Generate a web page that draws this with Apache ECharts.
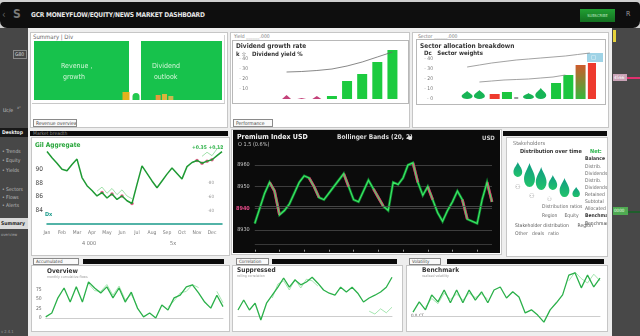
<!DOCTYPE html>
<html>
<head>
<meta charset="utf-8">
<title>GCR Moneyflow Dashboard</title>
<script src="https://cdn.jsdelivr.net/npm/echarts@6.0.0/dist/echarts.min.js"></script>
<style>
html, body { margin: 0; padding: 0; }
body { position: relative; width: 640px; height: 336px; overflow: hidden; background: #cfcfcf;
  font-family: "DejaVu Sans Condensed", "Liberation Sans", sans-serif; }
.a { position: absolute; box-sizing: border-box; }
.panel { background: #fff; border: 1px solid #c6c6c6; }
.hdr { background: #0b0b0b; color: #8a8a8a; font-size: 5px; line-height: 5px; padding-left: 3px; white-space: nowrap; overflow: hidden; }
.lbl { color: #555; font-size: 6px; line-height: 6px; white-space: nowrap; }
.side { color: #bdbdbd; font-size: 5px; line-height: 5px; white-space: nowrap; }
.tab { border: 1px solid #8a8a8a; background: #fafafa; color: #444; font-size: 5px; line-height: 6px; padding-left: 2px; white-space: nowrap; overflow: hidden; }
</style>
</head>
<body>

<!-- frame: top bar, side bars, main area -->
<div class="a" style="left:0;top:2px;width:640px;height:26px;background:#0e0e0e;border-radius:4px 4px 7px 7px"></div>
<div class="a" style="left:2px;top:9px;color:#666;font-size:10px">&lsaquo;</div>
<div class="a" style="left:13px;top:7px;color:#7a7a7a;font-size:12px;font-weight:bold">S</div>
<div class="a" style="left:31px;top:11px;color:#e6e6e6;font-size:6.6px;font-weight:bold;letter-spacing:-0.2px">GCR MONEYFLOW/EQUITY/NEWS MARKET DASHBOARD</div>
<div class="a" style="left:580px;top:9px;width:35px;height:13px;background:linear-gradient(#21a033,#137020);color:#bfe8c0;font-size:4px;line-height:13px;text-align:center">SUBSCRIBE</div>
<div class="a" style="left:626px;top:10px;color:#9a9a9a;font-size:7px">R</div>

<div class="a" id="sideL" style="left:0;top:28px;width:28px;height:308px;background:#474747">
  <div class="a side" style="left:13px;top:22px;width:14px;height:9px;border:1px solid #8a8a8a;color:#ddd;padding:1px 0 0 1px">G80</div>
  <div class="a side" style="left:3px;top:80px;color:#ccc">Uc/e</div>
  <div class="a side" style="left:17px;top:77px;color:#aaa;font-size:4px">x&sup2;</div>
  <div class="a side" style="left:0;top:100px;width:28px;height:9px;background:#181818;color:#eee;font-weight:bold;padding:2px 0 0 2px">Desktop</div>
  <div class="a side" style="left:2px;top:121px">&bull; Trends</div>
  <div class="a side" style="left:2px;top:130px">&bull; Equity</div>
  <div class="a side" style="left:2px;top:140px">&bull; Yields</div>
  <div class="a side" style="left:2px;top:159px">&bull; Sectors</div>
  <div class="a side" style="left:2px;top:167px">&bull; Flows</div>
  <div class="a side" style="left:2px;top:175px">&bull; Alerts</div>
  <div class="a side" style="left:0;top:190px;width:28px;height:11px;background:#d9d9d9;color:#222;font-weight:bold;padding:3px 0 0 1px">Summary</div>
  <div class="a side" style="left:1px;top:204px;color:#aaa;font-size:4px">overview</div>
  <div class="a side" style="left:1px;top:301px;color:#999;font-size:4px">v 2.4.1</div>
</div>

<div class="a" id="sideR" style="left:612px;top:28px;width:28px;height:308px;background:#484848">
  <div class="a" style="left:1px;top:2px;width:3px;height:12px;background:#e6d23a"></div>
  <div class="a side" style="left:1px;top:46px;width:14px;height:7px;background:#c9a2b6;color:#fff;padding:1px 0 0 1px;font-size:4.5px">4566</div>
  <div class="a" style="left:15px;top:49px;width:13px;height:1.5px;background:#e0306e"></div>
  <div class="a side" style="left:1px;top:179px;width:15px;height:8px;background:#4faa52;color:#e8ffe8;padding:1px 0 0 1px;font-size:4.5px">0000</div>
  <div class="a" style="left:16px;top:183px;width:12px;height:1.5px;background:#1f5e2c"></div>
</div>

<div class="a" style="left:28px;top:28px;width:584px;height:308px;background:#eeeeee"></div>

<!-- row 1 -->
<div class="a panel" style="left:30px;top:32px;width:198px;height:96px"></div>
<div class="a" style="left:32px;top:35px;width:193px;height:69px;border-right:1px solid #d2d2d2;border-bottom:1px solid #c8c8c8"></div>
<div class="a lbl" style="left:33px;top:34px;color:#666">Summary | Div</div>
<div class="a tab" style="left:33px;top:119px;width:44px;height:8px">Revenue overview</div>

<div class="a panel" style="left:230px;top:32px;width:180px;height:96px"></div>
<div class="a lbl" style="left:234px;top:33px;color:#777;font-size:5px">Yield ______.000</div>
<div class="a" style="left:232px;top:40px;width:177px;height:64px;border:1px solid #b8b8b8"></div>
<div class="a tab" style="left:233px;top:119px;width:40px;height:8px">Performance</div>

<div class="a panel" style="left:412px;top:32px;width:197px;height:96px"></div>
<div class="a lbl" style="left:418px;top:33px;color:#777;font-size:5px">Sector ______.000</div>
<div class="a" style="left:416px;top:39px;width:190px;height:66px;border:1px solid #b8b8b8"></div>

<!-- row 2 -->
<div class="a hdr" style="left:30px;top:131px;width:198px;height:5px">Market breadth</div>
<div class="a panel" style="left:31px;top:137px;width:199px;height:119px"></div>
<div class="a panel" style="left:231px;top:129px;width:271px;height:126px"></div>
<div class="a hdr" style="left:503px;top:131px;width:104px;height:5px"></div>
<div class="a panel" style="left:506px;top:137px;width:102px;height:120px"></div>

<!-- row 3 -->
<div class="a tab" style="left:33px;top:258px;width:46px;height:7px;font-size:4.5px;line-height:5px">Accumulated</div>
<div class="a hdr" style="left:83px;top:259px;width:141px;height:5px"></div>
<div class="a panel" style="left:31px;top:265px;width:199px;height:67px"></div>
<div class="a tab" style="left:236px;top:258px;width:33px;height:7px;font-size:4.5px;line-height:5px">Correlation</div>
<div class="a hdr" style="left:272px;top:259px;width:125px;height:5px"></div>
<div class="a panel" style="left:232px;top:265px;width:171px;height:67px"></div>
<div class="a tab" style="left:409px;top:258px;width:32px;height:7px;font-size:4.5px;line-height:5px">Volatility</div>
<div class="a hdr" style="left:447px;top:259px;width:157px;height:5px"></div>
<div class="a panel" style="left:406px;top:265px;width:202px;height:67px"></div>

<!-- chart hosts -->
<div class="a" id="c1" style="left:30px;top:32px;width:198px;height:96px"></div>
<div class="a" id="c2" style="left:233px;top:41px;width:175px;height:62px"></div>
<div class="a" id="c3" style="left:417px;top:40px;width:188px;height:64px"></div>
<div class="a" id="c4" style="left:32px;top:137px;width:198px;height:119px"></div>
<div class="a" id="c5" style="left:233px;top:130px;width:267px;height:123px"></div>
<div class="a" id="c6" style="left:507px;top:138px;width:100px;height:119px"></div>
<div class="a" id="c7" style="left:33px;top:265px;width:197px;height:66px"></div>
<div class="a" id="c8" style="left:233px;top:265px;width:169px;height:66px"></div>
<div class="a" id="c9" style="left:408px;top:265px;width:199px;height:66px"></div>

<script>
// ---- data ----
// summary cards: tiny bars under the two KPI tiles
const miniA = [8, 7];
const miniB = [5, 6, 4];

// dividend growth panel
const p2Cats = ["Q1", "Q2", "Q3", "Q4", "Q5", "Q6", "Q7", "Q8"];
const p2Growth = [0, 0, 0, 3, 18, 25, 37, 49];
const p2Dips = [4, 1, 3, 0, 0, 0, 0, 0];
const p2Trend = [27, 27.5, 28.5, 30, 33, 37, 42, 47];

// sector allocation panel
const p3Cats = ["A", "B", "C", "D", "E", "F", "G", "H", "I", "J", "K"];
const p3Drops = [8, 9, 0, 0, 0, 6, 11, 0, 0, 0, 0];
const p3Green = [0, 0, 0, 7, 0, 0, 0, 16, 24, 0, 0];
const p3Red = [0, 0, 5, 0, 0, 0, 0, 0, 0, 0, 36];
const p3Mixed = [0, 0, 0, 0, 0, 0, 0, 0, 0, 34, 0];
const p3Gray = [0, 0, 0, 0, 2, 0, 0, 0, 0, 0, 0];
const p3Upper = [32, 34, 36, 37.5, 39, 40, 41, 42, 43, 44.5, 46];
const p3Lower = ["-", 17, 18, 19, 19.5, 20, 21, 22, 24, "-", "-"];

// market trend (white line chart)
const p4Months = ["Jan", "Feb", "Mar", "Apr", "May", "Jun", "Jul", "Aug", "Sep", "Oct", "Nov", "Dec"];
const p4Price = [92.6, 91.7, 90.9, 90.0, 89.8, 90.7, 91.5, 88.8, 87.6, 86.9, 86.1, 86.6,
  85.8, 86.4, 85.6, 86.1, 85.4, 85.0, 87.8, 90.5, 89.4, 88.3, 87.3, 88.3,
  89.3, 90.2, 89.4, 88.6, 90.4, 91.0, 91.3, 90.9, 91.2, 91.4, 92.0, 92.6];
const p4Echo = ["-", "-", "-", "-", "-", "-", "-", "-", "-", "-", 86.8, 87.4,
  86.5, 87.2, 86.3, 87.0, 86.1, 85.7, "-", "-", "-", "-", "-", "-",
  "-", "-", "-", "-", "-", "-", "-", 91.9, 92.5, 92.0, 93.0, 93.4];
const p4Signals = [11, 13, 15, 17, 30, 31, 32, 33];

// premium index (dark chart)
const p5Price = [8933, 8940, 8947, 8952, 8948, 8937, 8939, 8942, 8947, 8952, 8955, 8954,
  8950, 8945, 8944, 8947, 8950, 8953, 8956, 8950, 8944, 8943, 8948, 8953,
  8949, 8945, 8941, 8939, 8952, 8951, 8954, 8960, 8961, 8952, 8946, 8950,
  8944, 8938, 8934, 8939, 8943, 8948, 8944, 8935, 8934, 8933, 8944, 8952, 8943];
const p5Pink = [4, 5, 12, 13, 19, 25, 26, 33, 36, 43, 48];
const p5Ticks = [8930, 8940, 8950, 8960];

// stakeholders (drops)
const p6Groups = ["North", "East", "South", "West", "Central", "Other"];
const p6Share = [15, 24, 23, 15, 19, 10];
const p6Level = [28.5, 23, 19.5, 15.5, 10.5, 6];

// bottom row flows
const p7Main = [3, 13, 53, 79, 42, 82, 42, 95, 79, 66, 82, 53, 79, 42, 68, 26, 3, 13, 0, 34, 21, 53, 60, 82, 87, 66, 42, 26, 60, 30];
const p7Echo = ["-", "-", "-", "-", "-", "-", "-", 90, 72, 70, 88, 60, 84, 48, 62, 30, "-", "-", "-", "-", 28, 45, 66, 70, 88, 80, "-", "-", 70, 40];
const p8Main = [15, 40, 15, 32, -10, 32, 52, 72, 95, 72, 90, 78, 85, 97, 82, 65, 57, 52, 72, 60, 72, 57, 35, 45, 52, 60, 72, 97];
const p8Echo = ["-", "-", "-", "-", "-", "-", 45, 80, 88, 65, 92, 70, 92, 88, 75, "-", "-", "-", "-", "-", "-", "-", "-", 12, 5, 18, 8, 22];
const p9Main = [9, 32, 14, 48, 32, 59, 30, 59, 30, 59, 36, 55, 30, 59, 66, 41, 55, 43, 7, 14, 2, -14, 14, 30, 48, 93, 98, 64, 93, 66, 86];
const p9Echo = ["-", "-", 20, 40, 28, 52, 38, 50, 36, 52, 42, 50, 38, "-", "-", "-", "-", "-", "-", "-", "-", "-", "-", "-", "-", 80, 100, 85, 75, 95, 80];

// ---- helpers ----
const FONT = "DejaVu Sans Condensed, Liberation Sans, sans-serif";
const DROP = "path://M5 0 C6 3 10 6 10 10 A5 5 0 0 1 0 10 C0 6 4 3 5 0 Z";

function txt(x, y, s, size, fill, weight) {
  return { type: "text", x: x, y: y, silent: true,
    style: { text: s, fontSize: size, fill: fill || "#444", fontWeight: weight || "normal", fontFamily: FONT } };
}

function draw(id, option) {
  let chart = echarts.getInstanceByDom(document.getElementById(id));
  if (chart == null) {
    chart = echarts.init(document.getElementById(id));
  }
  chart.setOption(Object.assign({ animation: false, textStyle: { fontFamily: FONT } }, option), true);
}

const hidden = { axisLine: { show: false }, axisTick: { show: false }, axisLabel: { show: false }, splitLine: { show: false } };

// summary tiles
draw("c1", {
  graphic: [
    { type: "rect", silent: true, shape: { x: 4, y: 9, width: 95, height: 59 }, style: { fill: "#17c24c" } },
    { type: "rect", silent: true, shape: { x: 111, y: 9, width: 81, height: 59 }, style: { fill: "#17c24c" } },
    txt(31, 31, "Revenue ,", 7, "#d4f5d8"), txt(33, 42, "growth", 7, "#d4f5d8"),
    txt(122, 31, "Dividend", 7, "#d4f5d8"), txt(124, 42, "outlook", 7, "#d4f5d8")
  ],
  grid: [{ left: 91, top: 60, width: 20, height: 8 }, { left: 125, top: 61, width: 19, height: 7 }],
  xAxis: [
    Object.assign({ gridIndex: 0, type: "category", data: ["a", "b"] }, hidden),
    Object.assign({ gridIndex: 1, type: "category", data: ["a", "b", "c"] }, hidden)
  ],
  yAxis: [
    Object.assign({ gridIndex: 0, type: "value", min: 0, max: 8 }, hidden),
    Object.assign({ gridIndex: 1, type: "value", min: 0, max: 7 }, hidden)
  ],
  series: [
    { type: "bar", xAxisIndex: 0, yAxisIndex: 0, barWidth: 7,
      data: miniA.map((v, i) => ({ value: v, itemStyle: { color: i ? "#22c94e" : "#e2b21c", borderRadius: i ? [4, 4, 0, 0] : 0 } })) },
    { type: "bar", xAxisIndex: 1, yAxisIndex: 1, barWidth: 5,
      data: miniB.map((v, i) => ({ value: v, itemStyle: { color: ["#e79a3c", "#d9b43c", "#c9b950"][i] } })) }
  ]
});

// dividend growth
draw("c2", {
  graphic: [
    txt(3, 2, "Dividend growth rate", 6.5, "#333", "bold"),
    txt(3, 10, "k \u2606   Dividend yield %", 6, "#333", "bold")
  ],
  grid: { left: 46, right: 8, top: 8, bottom: 4 },
  xAxis: Object.assign({ type: "category", data: p2Cats }, hidden),
  yAxis: { type: "value", min: 0, max: 50, interval: 10, splitLine: { show: false }, axisLine: { show: false }, axisTick: { show: false },
    axisLabel: { fontSize: 5, color: "#777", margin: 31, formatter: v => (v === 0 || v === 50) ? "" : "- " + v } },
  series: [
    { type: "bar", data: p2Growth, barWidth: 10, itemStyle: { color: "#1ccb3f" } },
    { type: "pictorialBar", data: p2Dips, symbol: "triangle", symbolSize: [9, "100%"], itemStyle: { color: "#c4427a" } },
    { type: "line", data: p2Trend, symbol: "none", lineStyle: { color: "#6a6a6a", width: 0.8 } }
  ]
});

// sector allocation
draw("c3", {
  graphic: [
    txt(3, 3, "Sector allocation breakdown", 6.5, "#333", "bold"),
    txt(7, 10, "Dc   Sector weights", 6, "#333", "bold"),
    { type: "rect", silent: true, shape: { x: 170, y: 13, width: 16, height: 9 }, style: { fill: "#9fd3e6" } },
    txt(174, 14, "\u25a2", 6, "#ffffff")
  ],
  grid: { left: 44, right: 9, top: 9, bottom: 5 },
  xAxis: Object.assign({ type: "category", data: p3Cats }, hidden),
  yAxis: { type: "value", min: 0, max: 50, interval: 10, splitLine: { show: false }, axisLine: { show: false }, axisTick: { show: false },
    axisLabel: { fontSize: 5, color: "#777", margin: 28, formatter: v => v === 50 ? "" : "- " + v } },
  series: [
    { type: "pictorialBar", data: p3Drops, symbol: DROP, symbolSize: [11, "100%"], itemStyle: { color: "#17b455" } },
    { type: "bar", data: p3Green, barWidth: 10, barGap: "-100%", itemStyle: { color: "#1bc63f" } },
    { type: "bar", data: p3Red, barWidth: 10, barGap: "-100%", itemStyle: { color: "#ee3a2e" } },
    { type: "bar", data: p3Mixed, barWidth: 10, barGap: "-100%",
      itemStyle: { color: new echarts.graphic.LinearGradient(0, 0, 0, 1, [{ offset: 0, color: "#cf5a2c" }, { offset: 1, color: "#35b83c" }]) } },
    { type: "bar", data: p3Gray, barWidth: 4, barGap: "-100%", itemStyle: { color: "#9a9a9a" } },
    { type: "line", data: p3Upper, symbol: "none", lineStyle: { color: "#8a8a8a", width: 0.8 } },
    { type: "line", data: p3Lower, symbol: "none", lineStyle: { color: "#8a8a8a", width: 0.8 } }
  ]
});

// market trend
draw("c4", {
  graphic: [
    txt(3, 5, "Gil Aggregate", 6.5, "#27a53a", "bold"),
    txt(160, 8, "+0.35 +0.12", 5, "#2fb24a", "bold"),
    txt(13, 75, "Dx", 5.5, "#1a9a8a", "bold"),
    txt(50, 104, "4 000", 5.5, "#777"),
    txt(138, 104, "5x", 5.5, "#777")
  ],
  grid: { left: 15, right: 8, top: 5, bottom: 32 },
  xAxis: { type: "category", boundaryGap: false, data: p4Price.map((_, i) => i),
    axisLine: { onZero: false, lineStyle: { color: "#1a9a8a", width: 1.5 } }, axisTick: { show: false },
    axisLabel: { interval: 2, fontSize: 5, color: "#777", margin: 6, formatter: (v, i) => p4Months[i / 3] } },
  yAxis: [
    { type: "value", min: 82, max: 94, interval: 2, splitLine: { show: false }, axisLine: { show: false }, axisTick: { show: false },
      axisLabel: { fontSize: 6.5, color: "#444", margin: 4, formatter: v => (v >= 84 && v <= 90) ? String(v) : "" } },
    { type: "value", min: 82, max: 94, interval: 2, position: "right", splitLine: { show: false }, axisLine: { show: false }, axisTick: { show: false },
      axisLabel: { inside: true, fontSize: 4.5, color: "#999", formatter: v => (v >= 84 && v <= 88) ? "\u00b7" + (v - 80) * 10 : "" } }
  ],
  series: [
    { type: "line", data: p4Echo, symbol: "none", lineStyle: { color: "#8ad996", width: 0.8 } },
    { type: "line", data: p4Price, symbol: "none", lineStyle: { color: "#1f9a34", width: 1.5 } },
    { type: "scatter", data: p4Price.map((v, i) => p4Signals.includes(i) ? v : "-"), symbolSize: 3.5, itemStyle: { color: "#e0336e" } }
  ]
});

// premium index, dark
draw("c5", {
  backgroundColor: "#0b0b0b",
  graphic: [
    txt(4, 4, "Premium Index USD", 7, "#f2f2f2", "bold"),
    txt(104, 4, "Bollinger Bands (20, 2)", 6.5, "#dcdcdc", "bold"),
    { type: "circle", silent: true, shape: { cx: 177, cy: 8, r: 2 }, style: { fill: "#e6e6e6" } },
    txt(249, 5, "USD", 6, "#cfcfcf", "bold"),
    txt(5, 12, "O 1.5 (0.6%)", 5.5, "#c8c8c8")
  ],
  grid: { left: 19, right: 8, top: 13.3, bottom: 1.3 },
  xAxis: { type: "category", boundaryGap: false, data: p5Price.map((_, i) => i), axisLine: { show: false },
    axisTick: { show: true, interval: 4, inside: true, length: 2, lineStyle: { color: "#9a9a9a" } },
    axisLabel: { show: false }, splitLine: { show: false } },
  yAxis: { type: "value", min: 8920, max: 8970, interval: 10, axisLine: { show: false }, axisTick: { show: false },
    splitLine: { showMinLine: false, showMaxLine: false, lineStyle: { color: "#4a4a4a", width: 0.8 } },
    axisLabel: { fontSize: 5.5, color: "#cfcfcf", margin: 5,
      formatter: v => !p5Ticks.includes(v) ? "" : (v === 8940 ? "{p|" + v + "}" : String(v)),
      rich: { p: { color: "#e84c8a", fontSize: 5.5, fontWeight: "bold" } } } },
  series: [
    { type: "line", data: p5Price, symbol: "none", lineStyle: { color: "#15a33a", width: 2.6, opacity: 0.8, join: "miter" },
      markLine: { silent: true, symbol: "none", label: { show: false },
        data: [{ yAxis: 8941, lineStyle: { color: "#555", width: 0.8, type: "solid" } },
               { yAxis: 8923.5, lineStyle: { color: "#444", width: 0.8, type: "solid" } }] } },
    { type: "line", data: p5Price.map((v, i) => (p5Pink.includes(i) || p5Pink.includes(i + 1)) ? v : "-"),
      symbol: "none", lineStyle: { color: "#e2336f", width: 2.8, join: "miter" } },
    { type: "line", data: p5Price, symbol: "none", lineStyle: { color: "#3aea66", width: 1.1, join: "miter" } }
  ]
});

// stakeholders
draw("c6", {
  graphic: [
    txt(6, 3, "Stakeholders", 5.5, "#777"),
    txt(13, 11, "Distribution over time", 5.5, "#333", "bold"),
    txt(83, 11, "Net:", 5.5, "#29b34a", "bold"),
    txt(78, 18, "Balance", 5, "#333", "bold"),
    txt(78, 26, "Distrib.", 5, "#666"),
    txt(78, 33, "Dividends", 5, "#666"),
    txt(78, 40, "Distrib.", 5, "#666"),
    txt(78, 47, "Dividends", 5, "#666"),
    txt(78, 54, "Retained", 5, "#666"),
    txt(78, 61, "Subtotal", 5, "#666"),
    txt(78, 68, "Allocated", 5, "#666"),
    txt(78, 75, "Benchmark", 5, "#333", "bold"),
    txt(78, 83, "Benchmark", 5, "#444"),
    txt(8, 46, "\u2687", 7, "#9a9a9a"), txt(22, 55, "\u2687", 7, "#9a9a9a"), txt(40, 58, "\u2687", 6, "#9a9a9a"),
    txt(35, 66, "Distribution ratios", 5, "#666"),
    txt(35, 75, "Region     Equity", 5, "#666"),
    txt(8, 85, "Stakeholder distribution      Region", 5, "#555"),
    txt(8, 93, "Other   deals   ratio", 5, "#666")
  ],
  grid: { left: 5, right: 25, top: 20, bottom: 59 },
  xAxis: Object.assign({ type: "category", data: p6Groups }, hidden),
  yAxis: Object.assign({ type: "value", min: 0, max: 40 }, hidden),
  series: [{
    type: "scatter", data: p6Level, symbol: DROP,
    symbolSize: (v, p) => [5 + p6Share[p.dataIndex] * 0.25, p6Share[p.dataIndex]],
    itemStyle: { opacity: 1, color: new echarts.graphic.LinearGradient(0, 0, 0, 1, [{ offset: 0, color: "#0f9c82" }, { offset: 1, color: "#22c36b" }]) }
  }]
});

// bottom row
function flow(id, main, echo, opts) {
  draw(id, {
    graphic: opts.graphic,
    grid: opts.grid,
    xAxis: { type: "category", boundaryGap: false, data: main.map((_, i) => i),
      axisLine: { lineStyle: { color: "#cdcdcd" } }, axisTick: { show: false }, axisLabel: { show: false } },
    yAxis: { type: "value", min: opts.min, max: 100, interval: 25, splitLine: { show: false }, axisLine: { show: false }, axisTick: { show: false },
      axisLabel: opts.labels ? { fontSize: 5, color: "#666", margin: 4, formatter: v => (v >= 0 && v < 100) ? String(v) : "" } : { show: false } },
    series: [
      { type: "line", data: echo, symbol: "none", lineStyle: { color: "#8ee09c", width: 0.8 } },
      { type: "line", data: main, symbol: "none", lineStyle: { color: "#2bb04a", width: 1.3 } }
    ]
  });
}

flow("c7", p7Main, p7Echo, {
  grid: { left: 12, right: 7, top: 15, bottom: 13 }, min: 0, labels: true,
  graphic: [txt(14, 3, "Overview", 6.5, "#333", "bold"), txt(14, 10, "monthly cumulative flows", 3.5, "#999")]
});
flow("c8", p8Main, p8Echo, {
  grid: { left: 5, right: 10, top: 11, bottom: 5 }, min: -25,
  graphic: [txt(4, 2, "Suppressed", 6.5, "#333", "bold"), txt(4, 9, "rolling correlation", 3.5, "#999")]
});
flow("c9", p9Main, p9Echo, {
  grid: { left: 5, right: 7, top: 7, bottom: 4 }, min: -25,
  graphic: [txt(14, 2, "Benchmark", 6.5, "#333", "bold"), txt(14, 9, "realised volatility", 3.5, "#999"), txt(3, 48, "0.0 CT", 4.5, "#666")]
});
</script>
</body>
</html>
